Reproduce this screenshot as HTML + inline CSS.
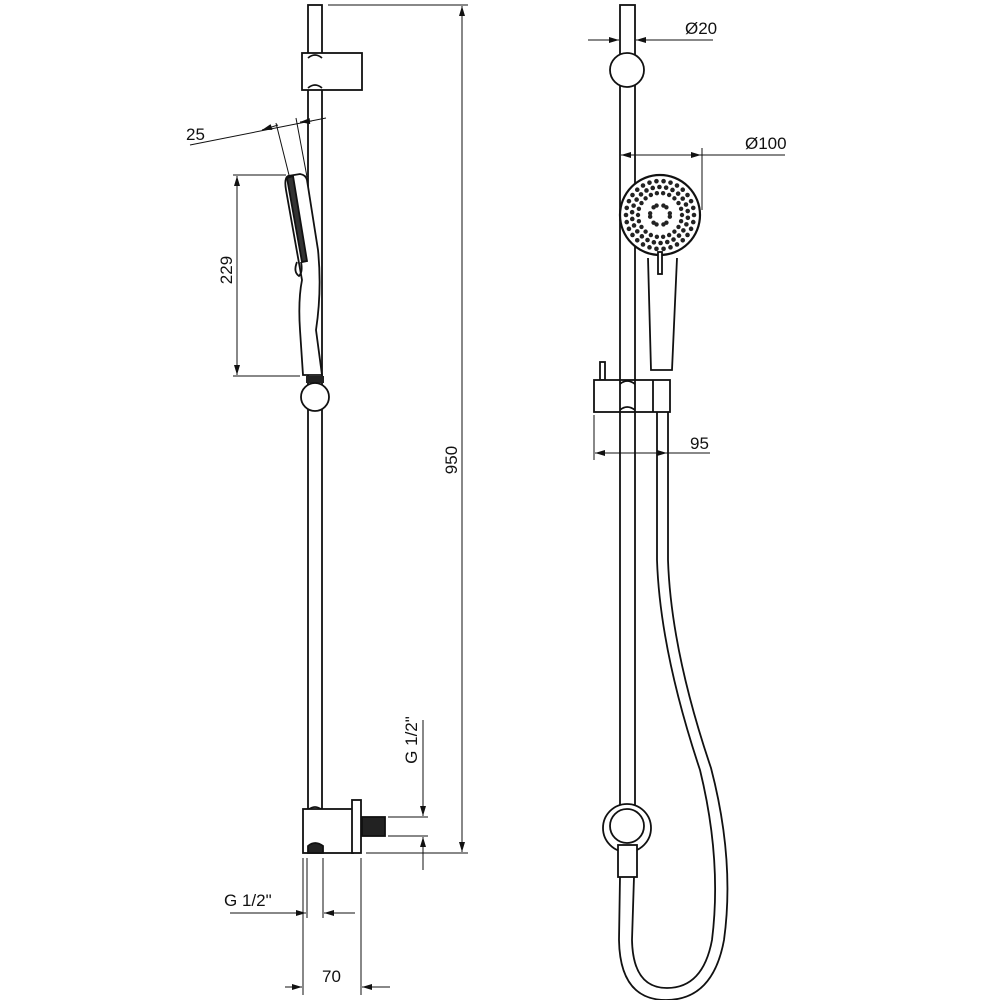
<!DOCTYPE html>
<html><head><meta charset="utf-8"><style>
html,body{margin:0;padding:0;background:#fff}
svg{display:block}
text{font-family:"Liberation Sans",sans-serif;font-size:17px;fill:#111}
</style></head><body>
<svg id="s" width="1000" height="1000" viewBox="0 0 1000 1000" xmlns="http://www.w3.org/2000/svg">
<defs>
<marker id="a" viewBox="0 0 10 6" refX="10" refY="3" markerWidth="14" markerHeight="6" markerUnits="userSpaceOnUse" orient="auto-start-reverse"><path d="M0,0L10,3L0,6z" fill="#111"/></marker>
</defs>
<g stroke="#111" fill="none" stroke-width="1.8">
<rect x="308" y="5" width="14" height="835" fill="#fff"/>
<rect x="302" y="53" width="60" height="37" fill="#fff"/>
<path d="M308,58 Q315,52 322,58 M308,88 Q315,82 322,88"/>
<path d="M288,176 L300,174 Q306,175 307,180 L318,250 Q322,290 316,330 L322,375 L303,375 L300,330 Q298,300 302,280 L286,190 Q284,178 288,176z" fill="#fff"/>
<path d="M287,178 L302,262 L307,261 L293,176z" fill="#333"/>
<path d="M297,262 Q293,272 299,276 Q303,272 301,262"/>
<rect x="306" y="376" width="18" height="7" fill="#222" stroke="none"/>
<circle cx="315" cy="397" r="14" fill="#fff"/>
<path d="M308,810 Q315,804 322,810"/>
<rect x="303" y="809" width="50" height="44" fill="#fff"/>
<rect x="352" y="800" width="9" height="53" fill="#fff"/>
<rect x="362" y="817" width="23" height="19" fill="#222"/>
<path d="M308,853 L308,846 Q315,840 323,846 L323,853z" fill="#222"/>
</g>
<g stroke="#111" fill="none" stroke-width="1">
<line x1="190" y1="145" x2="326" y2="118"/>
<line x1="278" y1="125" x2="262" y2="130" marker-end="url(#a)"/>
<line x1="300" y1="122" x2="312" y2="121" marker-start="url(#a)"/>
<line x1="276" y1="123" x2="289" y2="175"/>
<line x1="296" y1="118" x2="307" y2="177"/>
<line x1="233" y1="175" x2="286" y2="175"/>
<line x1="233" y1="376" x2="300" y2="376"/>
<line x1="237" y1="176" x2="237" y2="375" marker-start="url(#a)" marker-end="url(#a)"/>
<line x1="328" y1="5" x2="468" y2="5"/>
<line x1="366" y1="853" x2="468" y2="853"/>
<line x1="462" y1="6" x2="462" y2="852" marker-start="url(#a)" marker-end="url(#a)"/>
<line x1="388" y1="817" x2="428" y2="817"/>
<line x1="388" y1="836" x2="428" y2="836"/>
<line x1="423" y1="720" x2="423" y2="816" marker-end="url(#a)"/>
<line x1="423" y1="870" x2="423" y2="837" marker-end="url(#a)"/>
<line x1="307" y1="858" x2="307" y2="918"/>
<line x1="323" y1="858" x2="323" y2="918"/>
<line x1="230" y1="913" x2="306" y2="913" marker-end="url(#a)"/>
<line x1="355" y1="913" x2="324" y2="913" marker-end="url(#a)"/>
<line x1="303" y1="858" x2="303" y2="995"/>
<line x1="361" y1="858" x2="361" y2="995"/>
<line x1="285" y1="987" x2="302" y2="987" marker-end="url(#a)"/>
<line x1="390" y1="987" x2="362" y2="987" marker-end="url(#a)"/>
</g>
<text x="186" y="140">25</text>
<text transform="translate(232,270) rotate(-90)" text-anchor="middle">229</text>
<text transform="translate(457,460) rotate(-90)" text-anchor="middle">950</text>
<text transform="translate(417,740) rotate(-90)" text-anchor="middle">G 1/2"</text>
<text x="224" y="906">G 1/2"</text>
<text x="322" y="982">70</text>

<g stroke="#111" fill="none" stroke-width="1.8">
<rect x="620" y="5" width="15" height="800" fill="#fff"/>
<circle cx="627" cy="70" r="17" fill="#fff"/>
<path d="M657,412 L657,560 Q660,650 700,770 Q722,860 712,940 Q703,988 667,988 Q633,988 632,940 L634,877"/>
<path d="M668,412 L668,560 Q671,650 711,768 Q735,860 724,940 Q713,1000 666,1000 Q620,1000 619,940 L620,877"/>
<circle cx="627" cy="828" r="24" fill="#fff"/>
<circle cx="627" cy="826" r="17" fill="#fff"/>
<rect x="618" y="845" width="19" height="32" fill="#fff"/>
<path d="M648,258 L651,370 L672,370 L677,258" fill="#fff"/>
<circle cx="660" cy="215" r="40" fill="#fff" stroke-width="2.2"/>
<rect x="658" y="252" width="4" height="22" fill="#fff"/>
<rect x="600" y="362" width="5" height="18" fill="#fff"/>
<rect x="594" y="380" width="76" height="32" fill="#fff"/>
<line x1="620" y1="380" x2="620" y2="412"/><line x1="635" y1="380" x2="635" y2="412"/><line x1="653" y1="380" x2="653" y2="412"/>
<path d="M620,384 Q627,378 635,384 M620,410 Q627,404 635,410"/>
</g>
<g id="dots" fill="#222"></g>
<g stroke="#111" fill="none" stroke-width="1">
<line x1="588" y1="40" x2="619" y2="40" marker-end="url(#a)"/>
<line x1="713" y1="40" x2="636" y2="40" marker-end="url(#a)"/>
<line x1="621" y1="155" x2="701" y2="155" marker-start="url(#a)" marker-end="url(#a)"/>
<line x1="701" y1="155" x2="785" y2="155"/>
<line x1="702" y1="148" x2="702" y2="210"/>
<line x1="594" y1="415" x2="594" y2="460"/>
<line x1="668" y1="415" x2="668" y2="460"/>
<line x1="595" y1="453" x2="667" y2="453" marker-start="url(#a)" marker-end="url(#a)"/>
<line x1="667" y1="453" x2="710" y2="453"/>
</g>
<text x="685" y="34">Ø20</text>
<text x="745" y="149">Ø100</text>
<text x="690" y="449">95</text>
</svg>
<script>
var g=document.getElementById('dots'),ns='http://www.w3.org/2000/svg';
function ring(r,n,rad,off){for(var i=0;i<n;i++){var t=2*Math.PI*i/n+(off||0);var c=document.createElementNS(ns,'circle');c.setAttribute('cx',660+r*Math.cos(t));c.setAttribute('cy',215+r*Math.sin(t));c.setAttribute('r',rad);g.appendChild(c);}}
ring(34,30,2.3);ring(28,26,2.3,0.1);ring(22,22,2.2);
for(var k=0;k<6;k++){var t=Math.PI*2*k/6-Math.PI/2;for(var j=-1;j<=1;j+=2){var c=document.createElementNS(ns,'circle');c.setAttribute('cx',660+10*Math.cos(t+j*0.35));c.setAttribute('cy',215+10*Math.sin(t+j*0.35));c.setAttribute('r',2.2);g.appendChild(c);}}
</script>
</body></html>
